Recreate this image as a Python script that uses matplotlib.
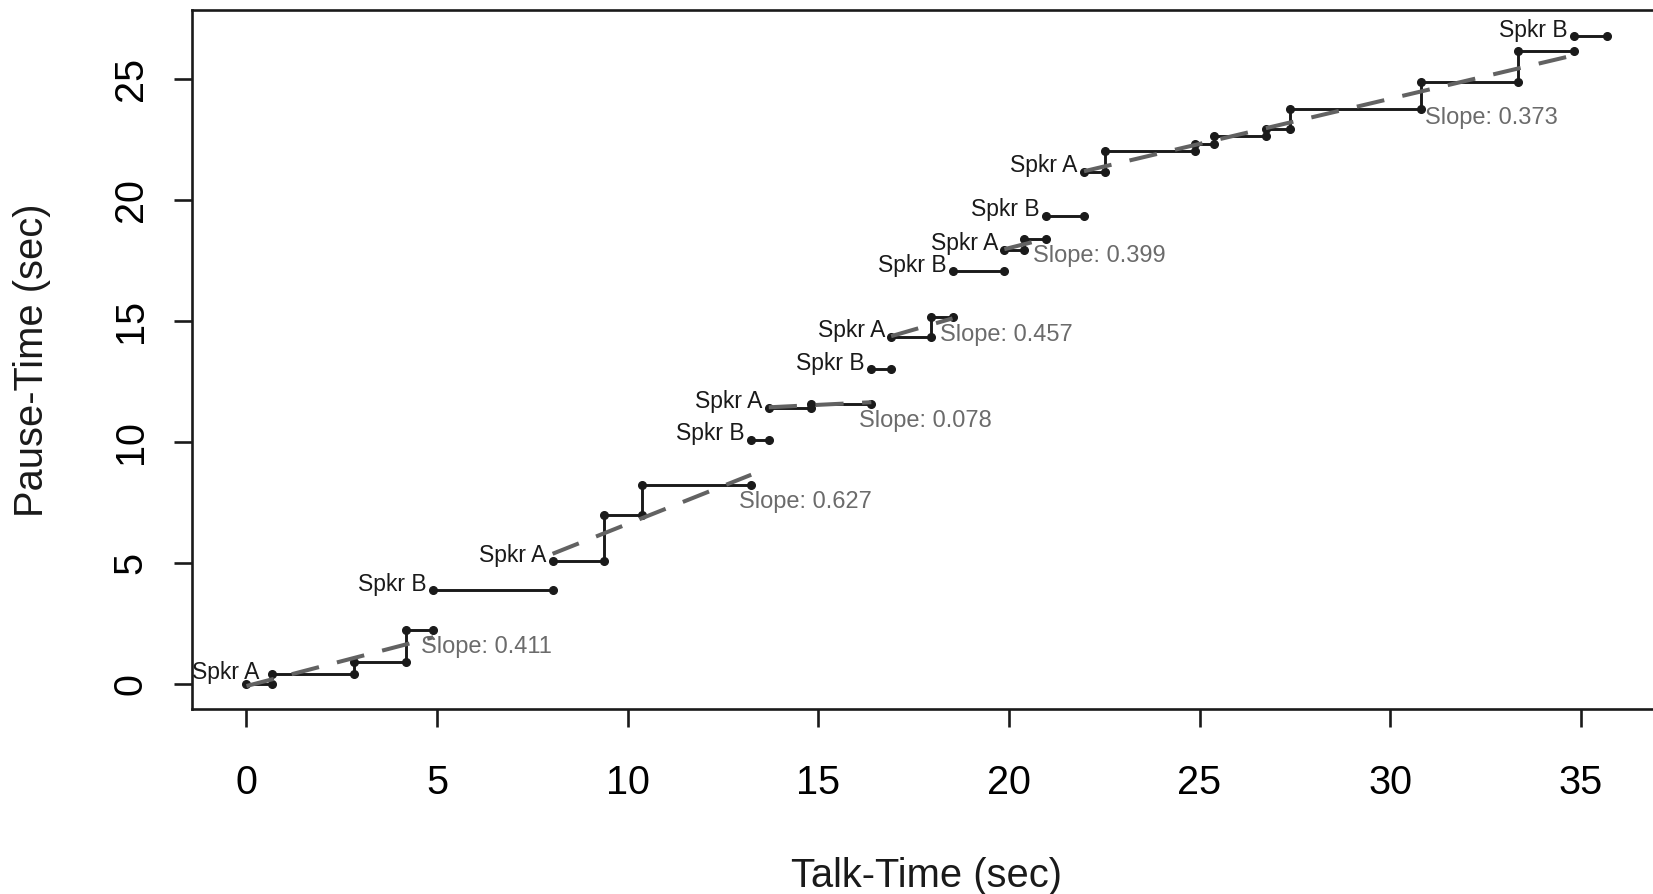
import matplotlib
matplotlib.use("Agg")
import matplotlib.pyplot as plt

# turns in order; each turn is a staircase: talk runs along x, pauses along y
turn_speakers = ["A", "B", "A", "B", "A", "B", "A", "B", "A", "B", "A", "B"]
turn_x = [
    [0.00, 0.68, 2.81, 4.18, 4.90],
    [4.90, 8.03],
    [8.03, 9.39, 10.38, 13.24],
    [13.24, 13.70],
    [13.70, 14.80, 16.39],
    [16.39, 16.91],
    [16.91, 17.96, 18.52],
    [18.52, 19.88],
    [19.88, 20.40, 20.96],
    [20.96, 21.97],
    [21.97, 22.53, 24.87, 25.38, 26.74, 27.37, 30.81, 33.36, 34.82],
    [34.82, 35.68],
]
turn_y = [
    [0.00, 0.40, 0.91, 2.22],
    [3.85],
    [5.05, 6.95, 8.21],
    [10.07],
    [11.40, 11.56],
    [12.99],
    [14.34, 15.14],
    [17.04],
    [17.92, 18.38],
    [19.34],
    [21.16, 22.03, 22.31, 22.65, 22.92, 23.75, 24.88, 26.16],
    [26.75],
]

# fitted lines for speaker A turns
fit_slopes = [0.411, 0.627, 0.078, 0.457, 0.399, 0.373]
fit_intercepts = [-0.10, 0.33, 10.35, 6.63, 10.02, 12.98]
slope_label_vertex = [-1, -1, -1, -1, -1, -3]
slope_label_offset = [(-9, -12.5)] * 5 + [(3, -6.5)]

plt.rcParams['font.family'] = ['Liberation Sans', 'DejaVu Sans']

fig = plt.figure(figsize=(16.53, 8.94), dpi=100)
ax = fig.add_axes([0.1162, 0.2064, 0.8887, 0.7819])

all_x = [v for xs in turn_x for v in xs]
all_y = [v for ys in turn_y for v in ys]
xr = max(all_x) - min(all_x)
yr = max(all_y) - min(all_y)
ax.set_xlim(min(all_x) - 0.04 * xr, max(all_x) + 0.04 * xr)
ax.set_ylim(min(all_y) - 0.04 * yr, max(all_y) + 0.04 * yr)

a_count = 0
for spk, xs, ys in zip(turn_speakers, turn_x, turn_y):
    vx, vy = [], []
    for i, level in enumerate(ys):
        vx += [xs[i], xs[i + 1]]
        vy += [level, level]
    ax.plot(vx, vy, color='#1a1a1a', lw=2.1, marker='o', ms=5.5,
            solid_capstyle='butt', zorder=3)

    if xs[0] <= ax.get_xlim()[0] + 1.5:
        # first label would run off the plot, so it sits against the frame
        ax.annotate(f"Spkr {spk}", (ax.get_xlim()[0], ys[0]), xytext=(0, 8),
                    textcoords='offset points', ha='left', va='center',
                    fontsize=16.5, color='#1a1a1a')
    else:
        ax.annotate(f"Spkr {spk}", (xs[0], ys[0]), xytext=(-4.5, 4.5),
                    textcoords='offset points', ha='right', va='center',
                    fontsize=16.5, color='#1a1a1a')

    if spk == "A":
        m = fit_slopes[a_count]
        b = fit_intercepts[a_count]
        x0, x1 = xs[0], xs[-1]
        ax.plot([x0, x1], [b + m * x0, b + m * x1], color='#626262', lw=2.9,
                dashes=(7, 4.6), zorder=4)
        k = slope_label_vertex[a_count]
        ax.annotate(f"Slope: {m:.3f}", (xs[k], ys[k]),
                    xytext=slope_label_offset[a_count],
                    textcoords='offset points', ha='left', va='center',
                    fontsize=17, color='#6b6b6b', zorder=5)
        a_count += 1

ax.set_xticks([0, 5, 10, 15, 20, 25, 30, 35])
ax.set_yticks([0, 5, 10, 15, 20, 25])
ax.tick_params(direction='out', length=13, width=1.9, labelsize=28.5, color='#1a1a1a')
ax.tick_params(axis='x', pad=26)
ax.tick_params(axis='y', pad=17.5, labelrotation=90)
for lab in ax.get_yticklabels():
    lab.set_va('center')

for sp in ax.spines.values():
    sp.set_linewidth(1.9)
    sp.set_color('#1a1a1a')

ax.set_xlabel('Talk-Time (sec)', fontsize=28.7, color='#1a1a1a')
ax.set_ylabel('Pause-Time (sec)', fontsize=28.7, color='#1a1a1a')
ax.xaxis.label.set_va('center')
ax.xaxis.set_label_coords(0.5, -0.2385)
ax.yaxis.label.set_va('center')
ax.yaxis.set_label_coords(-0.109, 0.5)

fig.savefig('out.png', dpi=100)
